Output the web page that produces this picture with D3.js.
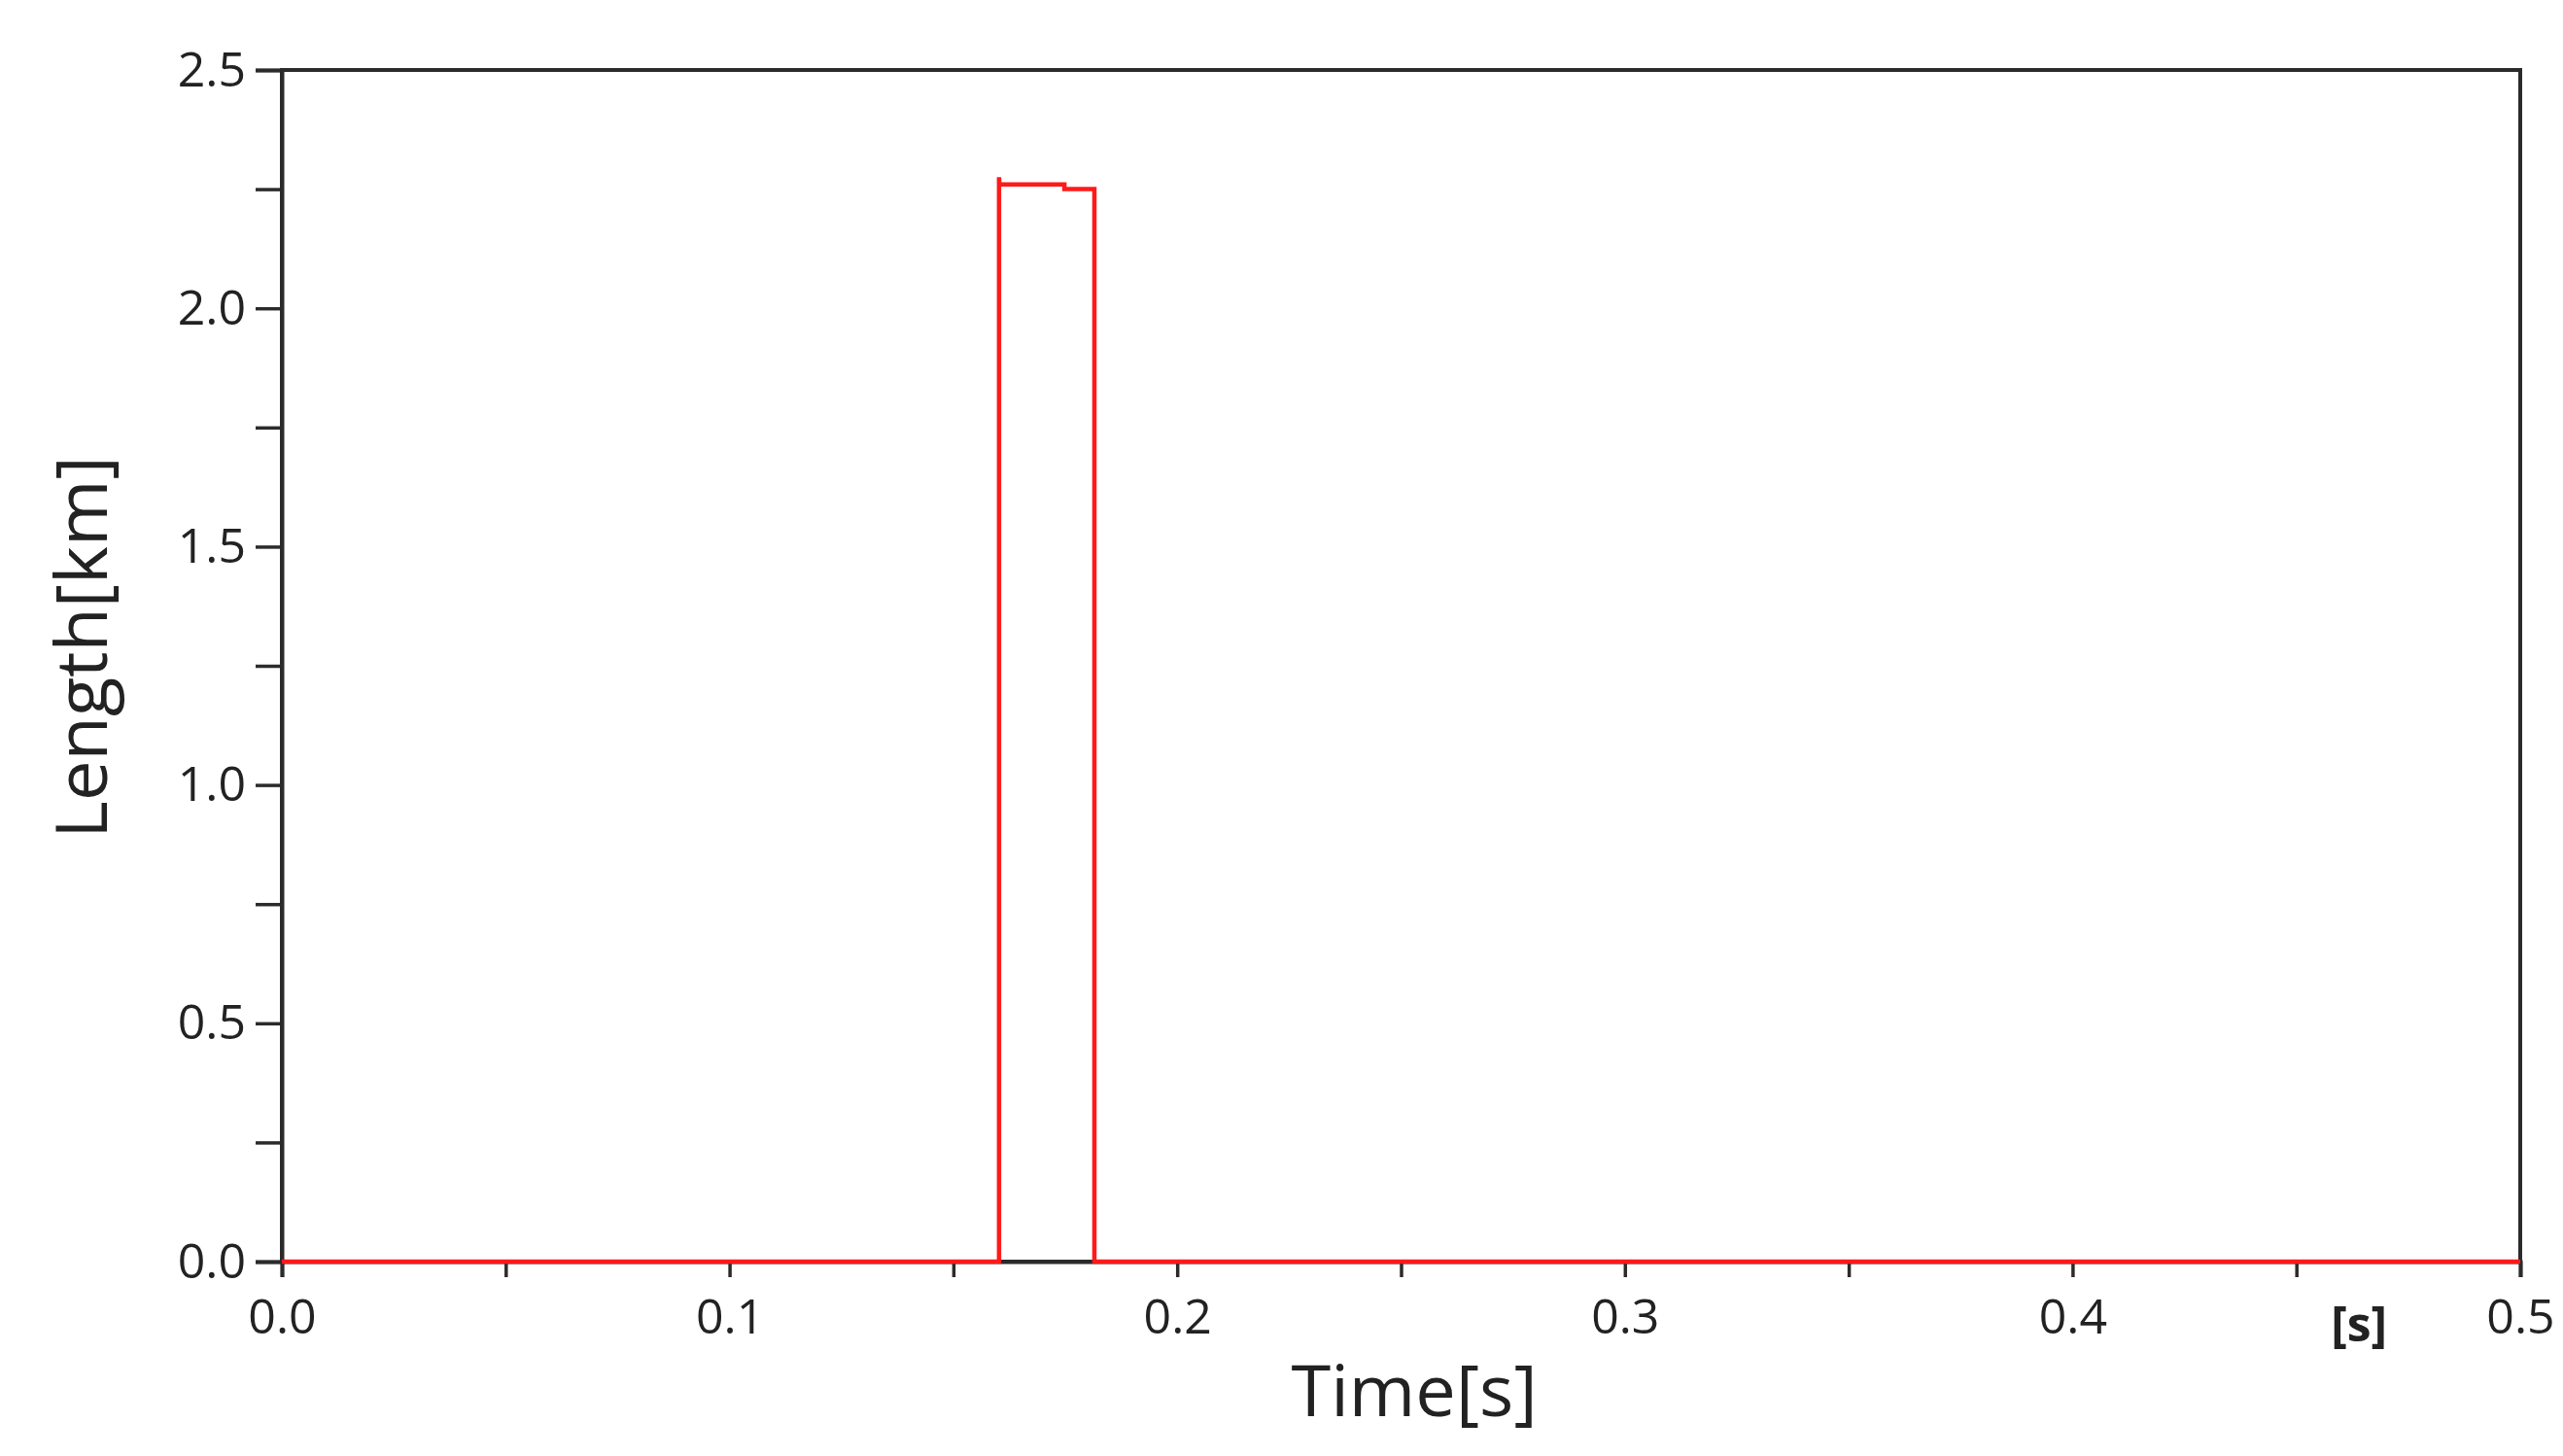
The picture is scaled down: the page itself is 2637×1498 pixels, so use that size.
<!DOCTYPE html>
<html>
<head>
<meta charset="utf-8">
<script src="https://cdn.jsdelivr.net/npm/d3@7"></script>
<style>
  html, body { margin: 0; padding: 0; background: #fff; }
  svg { display: block; }
  text { font-family: "Open Sans", "DejaVu Sans", sans-serif; fill: #222; }
</style>
</head>
<body>
<svg id="chart" width="2637" height="1498"></svg>
<script>
// Data
const timeValues   = [0, 0.1602, 0.1602, 0.1603, 0.1748, 0.1748, 0.1815, 0.1815, 0.5];
const lengthValues = [0, 0, 2.275, 2.26, 2.26, 2.25, 2.25, 0, 0];
const xTickValues  = [0, 0.05, 0.1, 0.15, 0.2, 0.25, 0.3, 0.35, 0.4, 0.45, 0.5];
const xTickLabels  = ["0.0", "", "0.1", "", "0.2", "", "0.3", "", "0.4", "", "0.5"];
const yTickValues  = [0, 0.25, 0.5, 0.75, 1.0, 1.25, 1.5, 1.75, 2.0, 2.25, 2.5];
const yTickLabels  = ["0.0", "", "0.5", "", "1.0", "", "1.5", "", "2.0", "", "2.5"];

const svg = d3.select("#chart");
const margin = { left: 290, right: 2637 - 2593, top: 72, bottom: 1498 - 1298 };
const W = 2637, H = 1498;

const x = d3.scaleLinear().domain([0, 0.5]).range([margin.left, W - margin.right]);
const y = d3.scaleLinear().domain([0, 2.5]).range([H - margin.bottom, margin.top]);

// Frame
svg.append("rect")
  .attr("x", x(0)).attr("y", y(2.5))
  .attr("width", x(0.5) - x(0)).attr("height", y(0) - y(2.5))
  .attr("fill", "none").attr("stroke", "#2b2b2b").attr("stroke-width", 4);

// X axis
const xAxis = d3.axisBottom(x)
  .tickValues(xTickValues)
  .tickSize(16)
  .tickPadding(22)
  .tickFormat((d, i) => xTickLabels[i]);
const gx = svg.append("g").attr("transform", `translate(0,${y(0)})`).call(xAxis);
gx.select(".domain").attr("stroke", "#2b2b2b").attr("stroke-width", 4);
gx.selectAll(".tick line").attr("stroke", "#2b2b2b").attr("stroke-width", 3.5);
gx.selectAll(".tick text").attr("font-size", 50).attr("fill", "#1e1e1e")
  .attr("font-family", "'Open Sans', 'DejaVu Sans', sans-serif");

// Y axis
const yAxis = d3.axisLeft(y)
  .tickValues(yTickValues)
  .tickSize(27)
  .tickPadding(10)
  .tickFormat((d, i) => yTickLabels[i]);
const gy = svg.append("g").attr("transform", `translate(${x(0)},0)`).call(yAxis);
gy.select(".domain").attr("stroke", "#2b2b2b").attr("stroke-width", 4);
gy.selectAll(".tick line").attr("stroke", "#2b2b2b").attr("stroke-width", 3.5);
gy.selectAll(".tick text").attr("font-size", 50).attr("fill", "#1e1e1e")
  .attr("font-family", "'Open Sans', 'DejaVu Sans', sans-serif");

// Data line
const pts = timeValues.map((t, i) => [t, lengthValues[i]]);
const line = d3.line().x(d => x(d[0])).y(d => y(d[1]));
svg.append("path")
  .datum(pts)
  .attr("d", line)
  .attr("fill", "none")
  .attr("stroke", "#ff1a1a")
  .attr("stroke-width", 4.5)
  .attr("stroke-linejoin", "miter");

// Unit marker
svg.append("text")
  .attr("x", x(0.464)).attr("y", 1380)
  .attr("text-anchor", "middle")
  .attr("font-size", 50).attr("font-weight", "bold")
  .text("[s]");

// Axis titles
svg.append("text")
  .attr("x", 1455).attr("y", 1457)
  .attr("text-anchor", "middle")
  .attr("font-size", 74)
  .text("Time[s]");

svg.append("text")
  .attr("transform", "translate(110,666) rotate(-90)")
  .attr("text-anchor", "middle")
  .attr("font-size", 74)
  .text("Length[km]");
</script>
</body>
</html>
